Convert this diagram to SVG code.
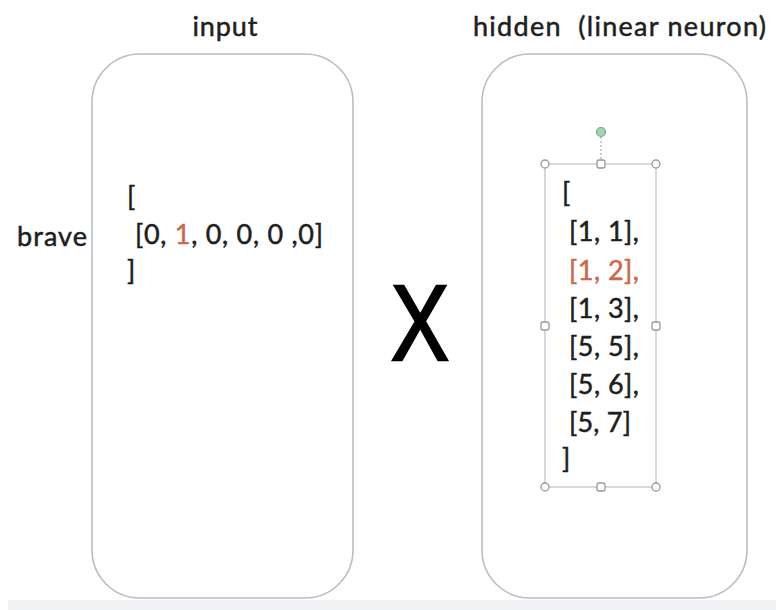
<svg xmlns="http://www.w3.org/2000/svg" width="776" height="610" viewBox="0 0 776 610">
<style>
.t{font-family:Lato,"Open Sans","Liberation Sans",sans-serif;font-size:27px;fill:#1e1e1e;stroke:#1e1e1e;stroke-width:0.5;white-space:pre}
.red{fill:#c8694e;stroke:#c8694e}
.box{fill:#fff;stroke:#b9bdc5;stroke-width:1.6}
.sel{fill:none;stroke:#b3b3b3;stroke-width:1}
.h{fill:#fff;stroke:#9a9a9a;stroke-width:1.3}
</style>
<rect x="0" y="0" width="776" height="610" fill="#fff"/>
<rect x="8" y="600" width="768" height="10" fill="#f0f1f3"/>
<g id="input">
  <rect class="box" x="92" y="54" width="261" height="544" rx="48" ry="48"/>
  <text class="t" x="225" y="36" text-anchor="middle" textLength="65">input</text>
  <text class="t" x="127" y="206">[</text>
  <text class="t" x="135" y="244" textLength="188">[0, <tspan class="red">1</tspan>, 0, 0, 0 ,0]</text>
  <text class="t" x="127" y="280">]</text>
</g>
<g id="brave">
  <text class="t" x="17" y="246" textLength="70">brave</text>
</g>
<g id="times">
  <text x="420" y="360" text-anchor="middle" font-family="Liberation Sans,sans-serif" font-size="108" fill="#000" stroke="#000" stroke-width="2.5" textLength="58" lengthAdjust="spacingAndGlyphs">X</text>
</g>
<g id="hidden">
  <rect class="box" x="482" y="54" width="265" height="544" rx="48" ry="48"/>
  <text class="t" x="473" y="36" textLength="293">hidden  (linear neuron)</text>
  <g id="selection">
    <line x1="601" y1="137" x2="601" y2="160" stroke="#9a9a9a" stroke-width="1" stroke-dasharray="2 2"/>
    <rect class="sel" x="545" y="164" width="111" height="323"/>
    <circle cx="601" cy="132" r="4.5" fill="#a6d3b3" stroke="#6faa84" stroke-width="1.2"/>
    <circle class="h" cx="545" cy="164" r="4"/>
    <rect class="h" x="597" y="160" width="8" height="8" rx="2"/>
    <circle class="h" cx="656" cy="164" r="4"/>
    <rect class="h" x="541" y="322" width="8" height="8" rx="2"/>
    <rect class="h" x="652" y="322" width="8" height="8" rx="2"/>
    <circle class="h" cx="545" cy="487" r="4"/>
    <rect class="h" x="597" y="483" width="8" height="8" rx="2"/>
    <circle class="h" cx="656" cy="487" r="4"/>
  </g>
  <text class="t" x="562" y="202">[</text>
  <text class="t" x="569" y="241" textLength="70">[1, 1],</text>
  <text class="t red" x="569" y="280" textLength="70">[1, 2],</text>
  <text class="t" x="569" y="318" textLength="70">[1, 3],</text>
  <text class="t" x="569" y="356" textLength="70">[5, 5],</text>
  <text class="t" x="569" y="394" textLength="70">[5, 6],</text>
  <text class="t" x="569" y="432" textLength="62">[5, 7]</text>
  <text class="t" x="562" y="468">]</text>
</g>
</svg>
